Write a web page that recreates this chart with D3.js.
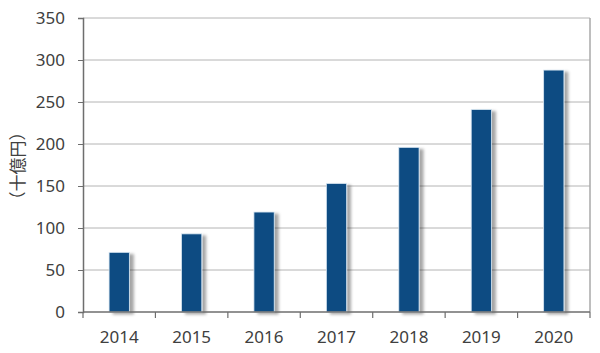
<!DOCTYPE html>
<html>
<head>
<meta charset="utf-8">
<script src="https://cdn.jsdelivr.net/npm/d3@7"></script>
<style>
  body { margin: 0; background: #fff; }
  text { font-family: "Noto Sans", "Open Sans", sans-serif; }
</style>
</head>
<body>
<div id="chart"></div>
<script>
// Data
var years = ["2014", "2015", "2016", "2017", "2018", "2019", "2020"];
var values = [71, 93, 119, 153, 196, 241, 288];
var yTicks = [0, 50, 100, 150, 200, 250, 300, 350];
var yLabel = "（十億円）";

const margin = { top: 18, right: 10, bottom: 41, left: 83 },
    width = 600 - margin.left - margin.right,
    height = 353 - margin.top - margin.bottom;

var x = d3.scaleBand().domain(years).range([0, width]).paddingInner(0.72).paddingOuter(0.36);
var xb = d3.scaleBand().domain(years).range([0, width]);
var y = d3.scaleLinear().domain([0, 350]).range([height, 0]);

var root = d3.select("#chart")
    .append("svg")
    .attr("width", 600)
    .attr("height", 353);

// Drop shadow for bars
var defs = root.append("defs");
var f = defs.append("filter").attr("id", "shadow")
    .attr("x", "-20%").attr("y", "-10%").attr("width", "160%").attr("height", "130%");
f.append("feDropShadow")
    .attr("dx", 4).attr("dy", 2)
    .attr("stdDeviation", 1.8)
    .attr("flood-color", "#000")
    .attr("flood-opacity", 0.35);

var svg = root.append("g")
    .attr("transform", "translate(" + margin.left + "," + margin.top + ")");

// Gridlines
svg.selectAll(".grid")
    .data(yTicks.filter(function(d) { return d > 0; }))
    .enter().append("line")
    .attr("x1", 0).attr("x2", width)
    .attr("y1", function(d) { return y(d); })
    .attr("y2", function(d) { return y(d); })
    .style("stroke", "#b4b4b4")
    .style("stroke-width", 1);

// Right border
svg.append("line")
    .attr("x1", width).attr("x2", width)
    .attr("y1", 0).attr("y2", height)
    .style("stroke", "#a8a8a8")
    .style("stroke-width", 1.5);

// Bars
svg.selectAll(".bar")
    .data(values)
    .enter().append("rect")
    .attr("class", "bar")
    .attr("x", function(d, i) { return x(years[i]); })
    .attr("width", x.bandwidth())
    .attr("y", function(d) { return y(d); })
    .attr("height", function(d) { return height - y(d); })
    .style("fill", "#0c4b82")
    .style("stroke", "#d8e6f2")
    .style("stroke-width", 0.8)
    .attr("filter", "url(#shadow)");

// Y axis
var yAxis = d3.axisLeft(y).tickValues(yTicks).tickSize(5).tickPadding(13);
var gy = svg.append("g").call(yAxis);
gy.select(".domain").style("stroke", "#6e6e6e").style("stroke-width", 1.5);
gy.selectAll(".tick line").style("stroke", "#6e6e6e");
gy.selectAll("text")
    .style("font-size", "17px")
    .style("fill", "#404040");

// X axis (ticks at category boundaries)
var gx = svg.append("g").attr("transform", "translate(0," + height + ")");
gx.append("line")
    .attr("x1", 0).attr("x2", width)
    .style("stroke", "#6e6e6e").style("stroke-width", 1.5);
gx.selectAll(".xtick")
    .data(years.concat(["end"]))
    .enter().append("line")
    .attr("x1", function(d, i) { return i * xb.bandwidth(); })
    .attr("x2", function(d, i) { return i * xb.bandwidth(); })
    .attr("y1", 0).attr("y2", 6)
    .style("stroke", "#6e6e6e")
    .style("stroke-width", 1.2);
gx.selectAll(".xlabel")
    .data(years)
    .enter().append("text")
    .attr("x", function(d) { return xb(d) + xb.bandwidth() / 2; })
    .attr("y", 31)
    .attr("text-anchor", "middle")
    .style("font-size", "17px")
    .style("fill", "#404040")
    .text(function(d) { return d; });

// Y axis label
root.append("text")
    .attr("transform", "translate(24,166) rotate(-90)")
    .attr("text-anchor", "middle")
    .style("font-family", "'Noto Sans CJK JP', sans-serif")
    .style("font-size", "17px")
    .style("fill", "#404040")
    .text(yLabel);
</script>
</body>
</html>
